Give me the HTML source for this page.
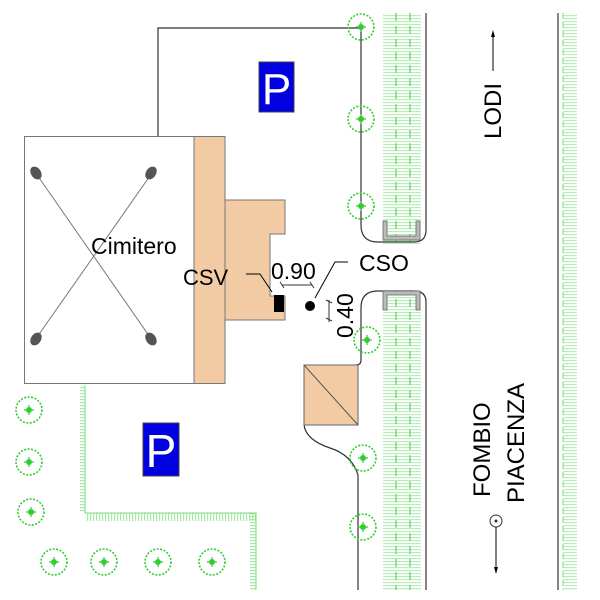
<!DOCTYPE html>
<html><head><meta charset="utf-8"><style>html,body{margin:0;padding:0;background:#fff}svg{display:block}</style></head><body>
<svg width="600" height="600" viewBox="0 0 600 600" xmlns="http://www.w3.org/2000/svg" font-family="Liberation Sans, sans-serif">
<defs>
<pattern id="hv" width="3" height="3" patternUnits="userSpaceOnUse"><rect width="3" height="1.2" fill="#a8e8a8"/></pattern>
<pattern id="hh" width="3" height="3" patternUnits="userSpaceOnUse"><rect width="1.2" height="3" fill="#a8e8a8"/></pattern>
<g id="tree"><circle r="13" fill="none" stroke="#3c3" stroke-width="1.6" stroke-dasharray="2 1.5"/><circle r="3" fill="#3c3"/><path d="M-5 0H5M0-5V5" stroke="#3c3" stroke-width="1.2"/></g>
</defs>
<rect x="383" y="13" width="38" height="577" fill="url(#hv)" opacity="0.8"/>
<rect x="563" y="13" width="14" height="577" fill="url(#hv)" opacity="0.8"/>
<line x1="396" y1="13" x2="396" y2="590" stroke="#4c4" stroke-dasharray="8 5"/>
<line x1="410" y1="13" x2="410" y2="590" stroke="#4c4" stroke-dasharray="8 5"/>
<line x1="563" y1="13" x2="563" y2="590" stroke="#7d7" stroke-dasharray="6 3"/>
<rect x="380" y="244" width="45" height="46" fill="#fff"/>
<path d="M426 13V230Q426 242 414 242H378Q361 242 361 225V28" fill="none" stroke="#333" stroke-width="1.2"/>
<path d="M426 590V302Q426 291 414 291H378Q361 291 361 308V360Q361 365 356 365" fill="none" stroke="#333" stroke-width="1.2"/>
<path d="M304 425Q306 440 330 448Q352 455 358 475V590" fill="none" stroke="#333" stroke-width="1.2"/>
<line x1="558" y1="13" x2="558" y2="590" stroke="#333" stroke-width="1.2"/>
<path d="M383 221V240H420V221H416V236H387V221Z" fill="#bbb" stroke="#666" stroke-width="0.8"/>
<path d="M383 310V291H420V310H416V295H387V310Z" fill="#bbb" stroke="#666" stroke-width="0.8"/>
<path d="M158 136V28H361" fill="none" stroke="#333" stroke-width="1.2"/>
<rect x="24.5" y="136.5" width="200" height="247" fill="#fff" stroke="#777" stroke-width="1"/>
<rect x="194" y="136.5" width="31" height="247" fill="#f2cba5" stroke="#777" stroke-width="1"/>
<line x1="35" y1="172" x2="152" y2="340" stroke="#777"/>
<line x1="152" y1="173" x2="35" y2="340" stroke="#777"/>
<g fill="#555"><ellipse cx="36" cy="173" rx="5" ry="7" transform="rotate(-35 36 173)"/><ellipse cx="151" cy="173" rx="5" ry="7" transform="rotate(35 151 173)"/><ellipse cx="36" cy="339" rx="5" ry="7" transform="rotate(35 36 339)"/><ellipse cx="151" cy="339" rx="5" ry="7" transform="rotate(-35 151 339)"/></g>
<path d="M225 200H285V234H270V296H285V320H225Z" fill="#f2cba5" stroke="#777"/>
<rect x="274" y="295" width="10" height="17" fill="#000"/>
<rect x="304" y="365" width="54" height="60" fill="#f2cba5" stroke="#666"/>
<line x1="304" y1="365" x2="358" y2="425" stroke="#555"/>
<rect x="259" y="62" width="35" height="50" fill="#0000e0" stroke="#444"/>
<text x="276.5" y="104" font-size="44" fill="#fff" text-anchor="middle">P</text>
<rect x="143" y="423" width="36" height="53" fill="#0000e0" stroke="#444"/>
<text x="161" y="467" font-size="46" fill="#fff" text-anchor="middle">P</text>
<rect x="80" y="385" width="5" height="128" fill="url(#hv)"/>
<rect x="85" y="513" width="171" height="8" fill="url(#hh)"/>
<rect x="250" y="513" width="6" height="77" fill="url(#hv)"/>
<path d="M85 385V513H256V590" fill="none" stroke="#7d7" stroke-width="1"/>
<use href="#tree" x="361" y="27"/><use href="#tree" x="361" y="119"/><use href="#tree" x="361" y="206"/>
<use href="#tree" x="367" y="340"/><use href="#tree" x="363" y="458"/><use href="#tree" x="363" y="527"/>
<use href="#tree" x="29" y="410"/><use href="#tree" x="29" y="462"/><use href="#tree" x="31" y="512"/>
<use href="#tree" x="54" y="562"/><use href="#tree" x="104" y="562"/><use href="#tree" x="158" y="562"/><use href="#tree" x="212" y="562"/>
<text x="91" y="254" font-size="23">Cimitero</text>
<text x="183" y="285" font-size="22">CSV</text>
<text x="271" y="279" font-size="23">0.90</text>
<text x="359" y="271" font-size="23">CSO</text>
<path d="M246 274H260L272 292" fill="none" stroke="#000"/>
<path d="M348 262H335L315 298" fill="none" stroke="#000"/>
<circle cx="310" cy="306" r="5" fill="#000"/>
<line x1="282" y1="285" x2="312" y2="285" stroke="#333"/>
<path d="M280 282l4 6M310 282l4 6" stroke="#333"/>
<line x1="329" y1="300" x2="329" y2="322" stroke="#333"/>
<path d="M326 300l6 3M326 318l6 3" stroke="#333"/>
<text transform="translate(353,338) rotate(-90)" font-size="23">0.40</text>
<text transform="translate(501,139) rotate(-90)" font-size="24">LODI</text>
<line x1="493" y1="34" x2="493" y2="71" stroke="#000"/>
<path d="M493 30l-2 7h4z" fill="#000"/>
<text transform="translate(490,497) rotate(-90)" font-size="24">FOMBIO</text>
<text transform="translate(524,503) rotate(-90)" font-size="24">PIACENZA</text>
<circle cx="496" cy="521" r="6" fill="none" stroke="#333"/><circle cx="496" cy="521" r="1.5" fill="#333"/>
<line x1="496" y1="527" x2="496" y2="570" stroke="#000"/>
<path d="M496 574l-2 -7h4z" fill="#000"/>
</svg>
</body></html>
